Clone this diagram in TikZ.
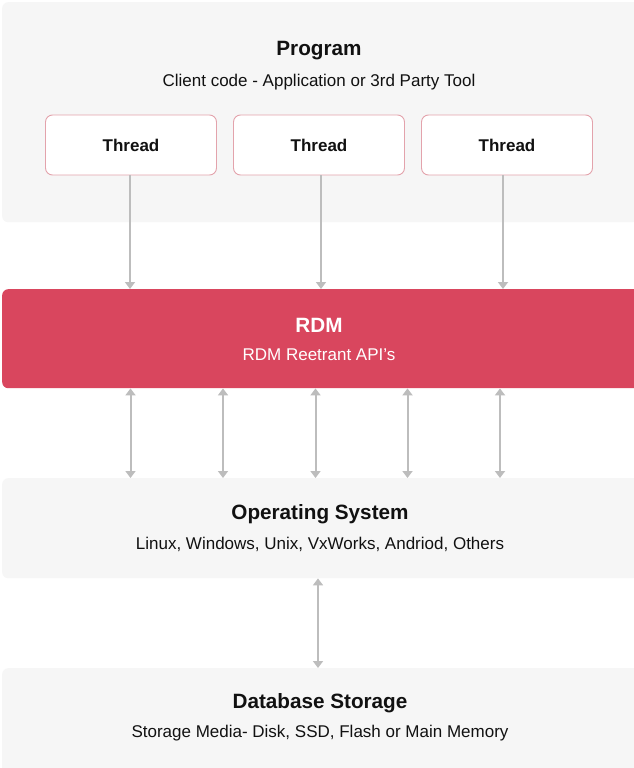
\documentclass[tikz,border=0pt]{standalone}
\usepackage{fontspec}
\setmainfont{Liberation Sans}
\usetikzlibrary{arrows.meta}
\definecolor{panelgray}{HTML}{F6F6F6}
\definecolor{rdmred}{HTML}{D9465E}
\definecolor{conngray}{HTML}{BDBDBD}
\definecolor{threadborder}{HTML}{E3A3AC}
\definecolor{textdark}{HTML}{111111}
\tikzset{
  panel/.style={fill=panelgray, draw=none, rounded corners=6pt, inner sep=0pt},
  redbar/.style={fill=rdmred, draw=none, rounded corners=6pt, inner sep=0pt},
  threadbox/.style={fill=white, draw=threadborder, line width=0.9pt, rounded corners=7pt,
    minimum width=171pt, minimum height=60pt, inner sep=0pt,
    font=\fontsize{17}{19}\selectfont\bfseries, text=textdark},
  titletext/.style={font=\fontsize{20.7}{24}\selectfont\bfseries, text=textdark, inner sep=0pt},
  subtext/.style={font=\fontsize{17}{20}\selectfont, text=textdark, inner sep=0pt},
  conn/.style={draw=conngray, line width=2pt,
    >={Triangle[width=10pt,length=7pt,fill=conngray]}},
}
\begin{document}
\begin{tikzpicture}[x=1pt,y=-1pt]
\useasboundingbox (0,0) rectangle (633,768);
\fill[white] (0,0) rectangle (633,768);
% panels
\node[panel, minimum width=640pt, minimum height=220pt, anchor=north west] (prog) at (2,2) {};
\node[redbar, minimum width=640pt, minimum height=99pt, anchor=north west] (rdm) at (2,289) {};
\node[panel, minimum width=640pt, minimum height=100pt, anchor=north west] (os) at (2,478) {};
\node[panel, minimum width=640pt, minimum height=110pt, anchor=north west] (db) at (2,668) {};
% texts
\node[titletext] (progt) at (319,51) {Program};
\node[subtext] (progs) at (319,82) {Client code - Application or 3rd Party Tool};
\node[titletext, text=white] (rdmt) at (319,325) {RDM};
\node[subtext, text=white] (rdms) at (319,355) {RDM Reetrant API’s};
\node[titletext] (ost) at (320,514) {Operating System};
\node[subtext] (oss) at (320,544) {Linux, Windows, Unix, VxWorks, Andriod, Others};
\node[titletext] (dbt) at (320,703) {Database Storage};
\node[subtext] (dbs) at (320,733) {Storage Media- Disk, SSD, Flash or Main Memory};
% threads
\node[threadbox] (t1) at (131,145) {Thread};
\node[threadbox] (t2) at (319,145) {Thread};
\node[threadbox] (t3) at (507,145) {Thread};
% thread connectors
\coordinate (a1) at (130,0);
\coordinate (a2) at (321,0);
\coordinate (a3) at (503,0);
\draw[conn, ->] (a1 |- t1.south) -- (a1 |- rdm.north);
\draw[conn, ->] (a2 |- t2.south) -- (a2 |- rdm.north);
\draw[conn, ->] (a3 |- t3.south) -- (a3 |- rdm.north);
% rdm to os
\coordinate (b1) at (130.5,0);
\coordinate (b2) at (223,0);
\coordinate (b3) at (315.5,0);
\coordinate (b4) at (407.5,0);
\coordinate (b5) at (500,0);
\foreach \c in {b1,b2,b3,b4,b5}
  \draw[conn, <->] (\c |- rdm.south) -- (\c |- os.north);
% os to db
\coordinate (c1) at (318,0);
\draw[conn, <->] (c1 |- os.south) -- (c1 |- db.north);
\end{tikzpicture}
\end{document}
